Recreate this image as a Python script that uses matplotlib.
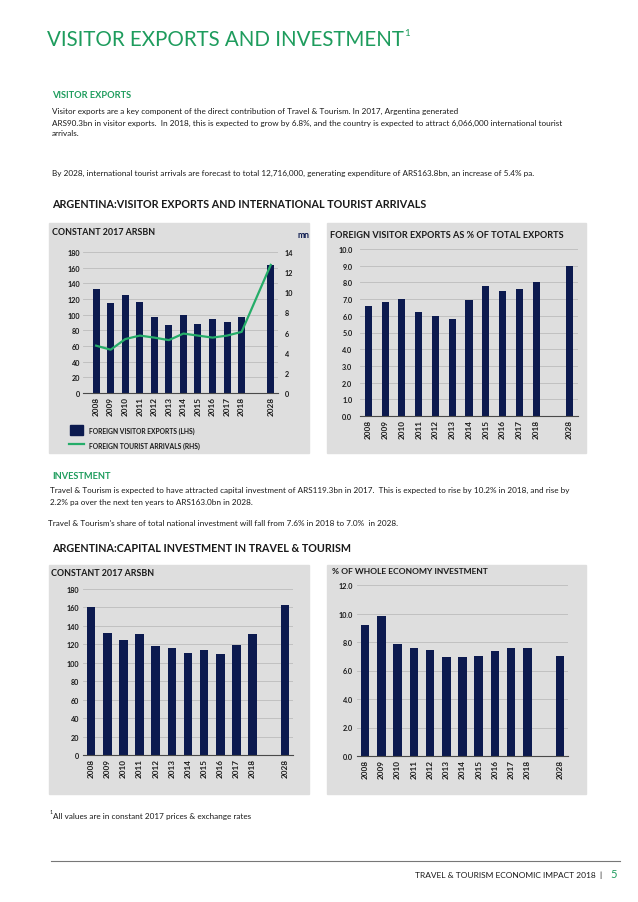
import matplotlib
matplotlib.use("Agg")
import matplotlib.pyplot as plt
import numpy as np
from matplotlib.patches import Rectangle
from matplotlib.lines import Line2D

# ── data ─────────────────────────────────────────────────────────────────────
years = ["2008", "2009", "2010", "2011", "2012", "2013", "2014", "2015",
         "2016", "2017", "2018", "2028"]
slots = list(range(11)) + [12]          # gap before the 2028 forecast

visitor_exports = [133, 115, 125, 116, 97, 87, 99, 88, 95, 90.3, 96.5, 163.8]      # ARSbn (LHS)
tourist_arrivals = [4.7, 4.3, 5.35, 5.7, 5.5, 5.25, 5.9, 5.7, 5.5, 5.7, 6.07, 12.72]  # mn (RHS)
export_share = [6.56, 6.8, 6.98, 6.2, 6.0, 5.82, 6.94, 7.78, 7.46, 7.62, 8.0, 8.98]   # % of total exports
capital_investment = [160, 132, 124.7, 131, 118, 115.7, 110.6, 113.9, 109, 119.3, 131.5, 163.0]
investment_share = [9.19, 9.8, 7.87, 7.55, 7.45, 6.94, 6.94, 7.05, 7.36, 7.55, 7.6, 7.0]

# ── style tokens ─────────────────────────────────────────────────────────────
GREEN = "#1e9c5d"
LINE_GREEN = "#25ad69"
NAVY = "#0c1a4f"
PANEL = "#dedede"
GRID = "#bcbcbc"
TEXT = "#1a1a1a"
FONT = ["Lato", "DejaVu Sans"]
BODY = 5.9

plt.rcParams["font.family"] = FONT

W, H = 638, 903
fig = plt.figure(figsize=(W / 100, H / 100), dpi=100)
fig.patch.set_facecolor("white")


def ftext(x, y, s, **kw):
    kw.setdefault("va", "center")
    kw.setdefault("color", TEXT)
    return fig.text(x / W, 1 - y / H, s, **kw)


def panel(l, t, r, b):
    fig.patches.append(Rectangle((l / W, 1 - b / H), (r - l) / W, (b - t) / H,
                                 transform=fig.transFigure, color=PANEL, zorder=-5))


def add_ax(l, t, r, b):
    return fig.add_axes([l / W, 1 - b / H, (r - l) / W, (b - t) / H])


def style_ax(ax, top, step, fmt, ypad, xlim=(-0.5, 12.5)):
    ax.set_facecolor("none")
    ax.set_ylim(0, top)
    ticks = np.arange(0, top + step / 2, step)
    ax.set_yticks(ticks)
    ax.set_yticklabels([fmt.format(t) for t in ticks], fontweight="bold")
    ax.yaxis.grid(True, color=GRID, lw=0.6)
    ax.set_axisbelow(True)
    for s in ("top", "right", "left"):
        ax.spines[s].set_visible(False)
    ax.spines["bottom"].set_color("#4a4a4a")
    ax.spines["bottom"].set_linewidth(0.8)
    ax.tick_params(axis="y", length=0, labelsize=5.2, pad=ypad, labelcolor=TEXT)
    ax.set_xlim(*xlim)
    ax.set_xticks(slots)
    ax.set_xticklabels(years, rotation=90, fontsize=5.9, fontweight="bold", color=TEXT)
    ax.tick_params(axis="x", length=0, pad=2)


# ── page header ──────────────────────────────────────────────────────────────
t = ftext(47, 40, "VISITOR EXPORTS AND INVESTMENT", fontsize=14.8, color=GREEN)
fig.canvas.draw()
bb = t.get_window_extent(fig.canvas.get_renderer())
fig.text(bb.x1 / W + 0.001, 1 - 33 / H, "1", fontsize=7, color=GREEN, va="center")

ftext(52, 95, "VISITOR EXPORTS", fontsize=6.7, color=GREEN, fontweight="bold")
ftext(52, 111, "Visitor exports are a key component of the direct contribution of Travel & Tourism. "
               "In 2017, Argentina generated", fontsize=BODY)
ftext(52, 123, "ARS90.3bn in visitor exports.  In 2018, this is expected to grow by 6.8%, and the "
               "country is expected to attract 6,066,000 international tourist", fontsize=BODY)
ftext(52, 134, "arrivals.", fontsize=BODY)
ftext(52, 173, "By 2028, international tourist arrivals are forecast to total 12,716,000, generating "
               "expenditure of ARS163.8bn, an increase of 5.4% pa.", fontsize=BODY)
ftext(52, 205, "ARGENTINA:VISITOR EXPORTS AND INTERNATIONAL TOURIST ARRIVALS", fontsize=7.75,
      fontweight="bold")

# ── chart 1: visitor exports + arrivals ─────────────────────────────────────
panel(49, 224, 309, 454)
ftext(52, 233, "CONSTANT 2017 ARSBN", fontsize=6.4, fontweight="bold")
ftext(298, 235, "mn", fontsize=6.2, fontweight="bold", color=NAVY)
ax1 = add_ax(83, 253, 278, 394)
ax1.bar(slots, visitor_exports, width=0.48, color=NAVY, zorder=2)
style_ax(ax1, 180, 20, "{:.0f}", 2, xlim=(-0.9, 12.5))
ax1r = ax1.twinx()
ax1r.plot(slots, tourist_arrivals, color=LINE_GREEN, lw=1.6, zorder=3)
ax1r.set_ylim(0, 14)
ax1r.set_yticks(np.arange(0, 15, 2))
ax1r.set_yticklabels([f"{v}" for v in range(0, 15, 2)], fontweight="bold")
ax1r.tick_params(axis="y", length=0, labelsize=5.2, pad=5, labelcolor=TEXT)
for s in ax1r.spines.values():
    s.set_visible(False)

# legend
fig.patches.append(Rectangle((70 / W, 1 - 436 / H), 13 / W, 10 / H,
                             transform=fig.transFigure, color=NAVY, zorder=1))
fig.lines.append(Line2D([69 / W, 84 / W], [1 - 445 / H, 1 - 445 / H],
                        transform=fig.transFigure, color=LINE_GREEN, lw=1.6))
ftext(89, 431, "FOREIGN VISITOR EXPORTS (LHS)", fontsize=4.85, fontweight="bold")
ftext(89, 446, "FOREIGN TOURIST ARRIVALS (RHS)", fontsize=4.85, fontweight="bold")

# ── chart 2: visitor exports share ──────────────────────────────────────────
panel(327, 224, 586, 454)
ftext(330, 235, "FOREIGN VISITOR EXPORTS AS % OF TOTAL EXPORTS", fontsize=6.6, fontweight="bold")
ax2 = add_ax(360, 250, 578, 417)
ax2.bar(slots, export_share, width=0.42, color=NAVY, zorder=2)
style_ax(ax2, 10, 1, "{:.1f}", 5.5)

# ── investment text ─────────────────────────────────────────────────────────
ftext(52, 477, "INVESTMENT", fontsize=6.7, color=GREEN, fontweight="bold")
ftext(50, 490, "Travel & Tourism is expected to have attracted capital investment of ARS119.3bn in 2017.  "
               "This is expected to rise by 10.2% in 2018, and rise by", fontsize=BODY)
ftext(50, 503, "2.2% pa over the next ten years to ARS163.0bn in 2028.", fontsize=BODY)
ftext(48, 523, "Travel & Tourism's share of total national investment will fall from 7.6% in 2018 "
               "to 7.0%  in 2028.", fontsize=BODY)
ftext(52, 549, "ARGENTINA:CAPITAL INVESTMENT IN TRAVEL & TOURISM", fontsize=7.75, fontweight="bold")

# ── chart 3: capital investment ─────────────────────────────────────────────
panel(49, 566, 309, 795)
ftext(51, 573, "CONSTANT 2017 ARSBN", fontsize=6.4, fontweight="bold")
ax3 = add_ax(83, 590, 293, 756)
ax3.bar(slots, capital_investment, width=0.53, color=NAVY, zorder=2)
style_ax(ax3, 180, 20, "{:.0f}", 3)

# ── chart 4: investment share ───────────────────────────────────────────────
panel(327, 566, 586, 795)
ftext(332, 571, "% OF WHOLE ECONOMY INVESTMENT", fontsize=6.1, fontweight="bold")
ax4 = add_ax(357, 586, 568, 757)
ax4.bar(slots, investment_share, width=0.53, color=NAVY, zorder=2)
style_ax(ax4, 12, 2, "{:.1f}", 3)

# ── footer ──────────────────────────────────────────────────────────────────
ftext(50, 812, "1", fontsize=3.8)
ftext(53, 817, "All values are in constant 2017 prices & exchange rates", fontsize=5.85)
fig.lines.append(Line2D([51 / W, 620 / W], [1 - 862 / H, 1 - 862 / H],
                        transform=fig.transFigure, color="#777777", lw=0.8))
ftext(602, 875, "TRAVEL & TOURISM ECONOMIC IMPACT 2018  |", fontsize=6.0, ha="right")
ftext(610, 875, "5", fontsize=8, color=GREEN)

fig.savefig("out.png", dpi=100)
